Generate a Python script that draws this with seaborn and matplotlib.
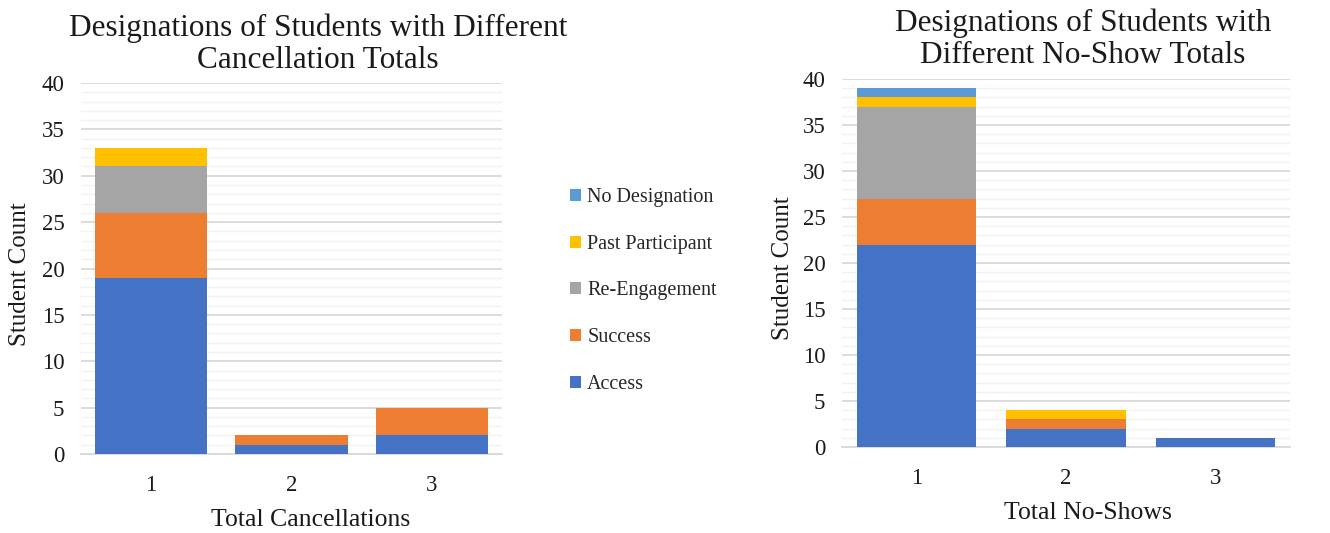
import numpy as np
import pandas as pd
import matplotlib
matplotlib.use("Agg")
import matplotlib.pyplot as plt
import seaborn as sns
from matplotlib.patches import Patch

sns.set_theme(style="white")
plt.rcParams["font.family"] = ["Liberation Serif", "DejaVu Serif"]

# Designations, from bottom of stack to top
designations = ["Access", "Success", "Re-Engagement", "Past Participant", "No Designation"]
colors = ["#4472C4", "#ED7D31", "#A5A5A5", "#FFC000", "#5B9BD5"]

totals = ["1", "2", "3"]

# Students by total cancellations
cancel_access = [19, 1, 2]
cancel_success = [7, 1, 3]
cancel_reengage = [5, 0, 0]
cancel_past = [2, 0, 0]
cancel_nodesig = [0, 0, 0]

# Students by total no-shows
noshow_access = [22, 2, 1]
noshow_success = [5, 1, 0]
noshow_reengage = [10, 0, 0]
noshow_past = [1, 1, 0]
noshow_nodesig = [1, 0, 0]

cancel_series = [cancel_access, cancel_success, cancel_reengage, cancel_past, cancel_nodesig]
noshow_series = [noshow_access, noshow_success, noshow_reengage, noshow_past, noshow_nodesig]

W, H = 1330, 533
fig = plt.figure(figsize=(W / 100, H / 100), dpi=100)
TXT = "#1a1a1a"


def px_axes(x0, y0, x1, y1):
    # axes placed from pixel corners (top-left origin)
    return fig.add_axes([x0 / W, 1 - y1 / H, (x1 - x0) / W, (y1 - y0) / H])


def stacked(ax, series):
    cum = np.cumsum(np.array(series, dtype=float), axis=0)
    # draw tallest layer first so lower layers overlay it
    for i in range(len(series) - 1, -1, -1):
        df = pd.DataFrame({"total": totals, "count": cum[i]})
        sns.barplot(data=df, x="total", y="count", color=colors[i], ax=ax,
                    width=0.8, saturation=1, linewidth=0, zorder=3)
    ax.set_ylim(0, 40)
    ax.set_xlim(-0.5, 2.5)
    ax.set_yticks(range(0, 41, 5))
    ax.set_yticks(range(0, 41, 1), minor=True)
    ax.grid(axis="y", which="major", color="#d9d9d9", linewidth=1.3, zorder=0)
    ax.grid(axis="y", which="minor", color="#f2f2f2", linewidth=1.0, zorder=0)
    ax.set_axisbelow(True)
    for s in ["top", "right", "left"]:
        ax.spines[s].set_visible(False)
    ax.spines["bottom"].set_color("#d9d9d9")
    ax.spines["bottom"].set_linewidth(1.3)
    ax.tick_params(axis="both", which="both", length=0, labelsize=16.5, colors=TXT)
    ax.tick_params(axis="y", pad=12)
    ax.tick_params(axis="x", pad=15)
    ax.set_xlabel("")
    ax.set_ylabel("")


ax1 = px_axes(81, 83, 502, 454)
stacked(ax1, cancel_series)
ax2 = px_axes(842, 79, 1290, 447)
stacked(ax2, noshow_series)

fig.text(318 / W, 1 - 44 / H, "Designations of Students with Different\nCancellation Totals",
         ha="center", va="center", fontsize=22.5, color=TXT, linespacing=1.15)
fig.text(1083 / W, 1 - 39 / H, "Designations of Students with\nDifferent No-Show Totals",
         ha="center", va="center", fontsize=22.5, color=TXT, linespacing=1.15)

fig.text(311 / W, 1 - 520 / H, "Total Cancellations", ha="center", va="center",
         fontsize=18.5, color=TXT)
fig.text(1088 / W, 1 - 513 / H, "Total No-Shows", ha="center", va="center",
         fontsize=18.5, color=TXT)
fig.text(20 / W, 1 - 274 / H, "Student Count", ha="center", va="center", rotation=90,
         fontsize=18, color=TXT)
fig.text(783 / W, 1 - 268 / H, "Student Count", ha="center", va="center", rotation=90,
         fontsize=18, color=TXT)

handles = [Patch(facecolor=colors[i], edgecolor="none", label=designations[i])
           for i in range(len(designations) - 1, -1, -1)]
fig.legend(handles=handles, loc="center left", bbox_to_anchor=(560 / W, 1 - 291 / H),
           frameon=False, fontsize=14.5, handlelength=0.55, handleheight=0.55,
           handletextpad=0.3, labelspacing=1.38, borderpad=0)

fig.savefig("out.png", dpi=100, facecolor="white")
